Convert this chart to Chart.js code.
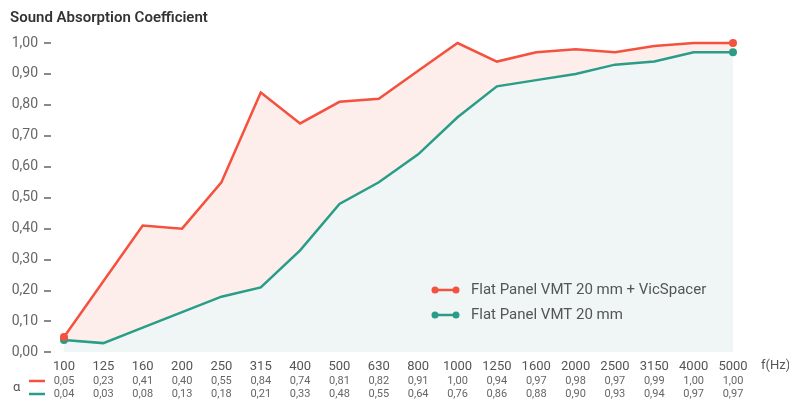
<!DOCTYPE html>
<html>
<head>
<meta charset="utf-8">
<script src="https://cdn.jsdelivr.net/npm/chart.js@4"></script>
<style>
  body{margin:0;background:#fff}
  #wrap{width:789px;height:401px}
</style>
</head>
<body>
<div id="wrap"><canvas id="chart1"></canvas></div>
<script>
freqs = ["100","125","160","200","250","315","400","500","630","800","1000","1250","1600","2000","2500","3150","4000","5000"]
withSpacer = [0.05,0.23,0.41,0.40,0.55,0.84,0.74,0.81,0.82,0.91,1.00,0.94,0.97,0.98,0.97,0.99,1.00,1.00]
panelOnly = [0.04,0.03,0.08,0.13,0.18,0.21,0.33,0.48,0.55,0.64,0.76,0.86,0.88,0.90,0.93,0.94,0.97,0.97]
seriesNames = ["Flat Panel VMT 20 mm + VicSpacer","Flat Panel VMT 20 mm"]
yTicks = [0,0.1,0.2,0.3,0.4,0.5,0.6,0.7,0.8,0.9,1.0]

RED = '#f4513f'
GREEN = '#2a9d88'
FONT = 'Roboto, "DejaVu Sans", sans-serif'

function fmt(v){ return v.toFixed(2).replace('.', ',') }
function endDots(arr){ return arr.map((v,i) => (i==0 || i==arr.length-1) ? 4 : 0) }

// y dashes, table under the axis, legend inside the plot, axis unit
const extras = {
  id: 'extras',
  afterDraw(chart) {
    const ctx = chart.ctx
    const x = chart.scales.x
    const ys = chart.scales.y
    ctx.save()
    ctx.fillStyle = '#8a8a8a'
    ys.ticks.forEach((t,i) => {
      const py = ys.getPixelForTick(i)
      ctx.fillRect(44, Math.round(py) - 1, 7, 2)
    })
    ctx.textAlign = 'center'
    ctx.textBaseline = 'middle'
    ctx.font = '11px ' + FONT
    ctx.fillStyle = '#666'
    freqs.forEach((f,i) => {
      const px = x.getPixelForValue(i)
      ctx.fillText(fmt(withSpacer[i]), px, 381)
      ctx.fillText(fmt(panelOnly[i]), px, 394)
    })
    ctx.font = '13px ' + FONT
    ctx.fillStyle = '#555'
    ctx.textAlign = 'left'
    ctx.fillText('f(Hz)', 761, 366)
    ctx.fillText('α', 13, 388)
    // little row markers
    ctx.lineWidth = 2.5
    ctx.strokeStyle = RED
    ctx.beginPath(); ctx.moveTo(29,381); ctx.lineTo(45,381); ctx.stroke()
    ctx.strokeStyle = GREEN
    ctx.beginPath(); ctx.moveTo(29,394); ctx.lineTo(45,394); ctx.stroke()
    // legend
    const cols = [RED, GREEN]
    seriesNames.forEach((name,k) => {
      const ly = 290 + k*25
      ctx.strokeStyle = cols[k]
      ctx.fillStyle = cols[k]
      ctx.beginPath(); ctx.moveTo(435,ly); ctx.lineTo(456,ly); ctx.stroke()
      ctx.beginPath(); ctx.arc(435,ly,3.5,0,Math.PI*2); ctx.fill()
      ctx.beginPath(); ctx.arc(456,ly,3.5,0,Math.PI*2); ctx.fill()
      ctx.fillStyle = '#555'
      ctx.font = '15px ' + FONT
      ctx.fillText(name, 471, ly)
    })
    ctx.restore()
  }
}

var ctx = document.getElementById('chart1').getContext('2d')
var myChart = new Chart(ctx, {
  type: 'line',
  data: {
    labels: freqs,
    datasets: [{
      label: seriesNames[0],
      data: withSpacer,
      borderColor: RED,
      backgroundColor: RED,
      borderWidth: 2.5,
      pointRadius: endDots(withSpacer),
      pointBackgroundColor: RED,
      pointBorderWidth: 0,
      fill: {target: '+1', above: '#fdeeec', below: '#fdeeec'},
      tension: 0,
      clip: 8
    },{
      label: seriesNames[1],
      data: panelOnly,
      borderColor: GREEN,
      backgroundColor: GREEN,
      borderWidth: 2.5,
      pointRadius: endDots(panelOnly),
      pointBackgroundColor: GREEN,
      pointBorderWidth: 0,
      fill: {target: 'origin', above: '#eff6f5', below: '#eff6f5'},
      tension: 0,
      clip: 8
    }]
  },
  options: {
    responsive: true,
    maintainAspectRatio: false,
    animation: false,
    layout: {padding: {left: 10, right: 56, top: 0, bottom: 19}},
    plugins: {
      legend: {display: false},
      tooltip: {enabled: false},
      filler: {drawTime: 'beforeDatasetsDraw'},
      title: {
        display: true,
        text: 'Sound Absorption Coefficient',
        align: 'start',
        color: '#333',
        font: {family: FONT, size: 15, weight: '600'},
        padding: {top: 9, bottom: 16}
      }
    },
    scales: {
      x: {
        offset: false,
        grid: {display: false, drawTicks: false},
        border: {display: false},
        ticks: {color: '#555', font: {family: FONT, size: 13}, padding: 7, maxRotation: 0, autoSkip: false}
      },
      y: {
        min: 0,
        max: 1,
        afterFit(scale) { scale.width = 54 },
        afterBuildTicks(scale) { scale.ticks = yTicks.map(v => ({value: v})) },
        grid: {display: false, drawTicks: false},
        border: {display: false},
        ticks: {color: '#666', font: {family: FONT, size: 14}, padding: 26, callback: v => fmt(v)}
      }
    }
  },
  plugins: [extras]
})
</script>
</body>
</html>
